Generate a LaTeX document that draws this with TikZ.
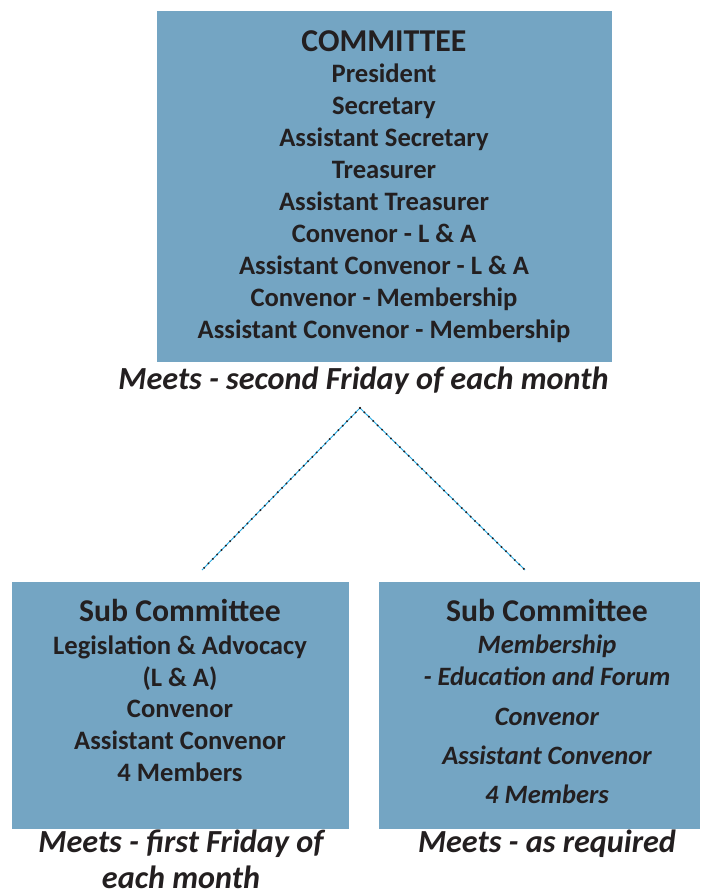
\documentclass[tikz,border=0pt]{standalone}
\usepackage{fontspec}
\setmainfont{Carlito}
\definecolor{boxblue}{RGB}{116,165,195}
\definecolor{ink}{RGB}{35,31,32}
\definecolor{linkblue}{RGB}{41,170,225}
\begin{document}
\begin{tikzpicture}[x=1pt,y=-1pt,
  panel/.style={draw=none,fill=boxblue,inner sep=0pt,anchor=north west},
  ln/.style={anchor=base,inner sep=0pt,text=ink,font=\fontsize{26.6}{30}\selectfont\bfseries},
  lni/.style={ln,font=\fontsize{26.5}{30}\selectfont\bfseries\itshape},
  head/.style={ln,font=\fontsize{31.8}{36}\selectfont\bfseries},
  subhead/.style={ln,font=\fontsize{31.7}{36}\selectfont\bfseries},
  meetcap/.style={ln,font=\fontsize{32.2}{36}\selectfont\bfseries\itshape}]
\useasboundingbox (0,0) rectangle (704,892);
% boxes
\node[panel,minimum width=455,minimum height=351] (top) at (157,11) {};
\node[panel,minimum width=337,minimum height=247] (left) at (12,582) {};
\node[panel,minimum width=321,minimum height=247] (right) at (379,582) {};
% top box text
\node[head] (t0) at (384,51) {COMMITTEE};
\node[ln] (t1) at (384,82) {President};
\node[ln] (t2) at (384,114) {Secretary};
\node[ln] (t3) at (384,146) {Assistant Secretary};
\node[ln] (t4) at (384,178) {Treasurer};
\node[ln] (t5) at (384,210) {Assistant Treasurer};
\node[ln] (t6) at (384,242) {Convenor - L \& A};
\node[ln] (t7) at (384,274) {Assistant Convenor - L \& A};
\node[ln] (t8) at (384,306) {Convenor - Membership};
\node[ln] (t9) at (384,338) {Assistant Convenor - Membership};
\node[meetcap] (tc) at (363.5,389) {Meets - second Friday of each month};
% left box text
\node[subhead] (l0) at (180,621) {Sub Committee};
\node[ln] (l1) at (180,654) {Legislation \& Advocacy};
\node[ln] (l2) at (180,686) {(L \& A)};
\node[ln] (l3) at (180,717) {Convenor};
\node[ln] (l4) at (180,749) {Assistant Convenor};
\node[ln] (l5) at (180,781) {4 Members};
\node[meetcap] (lc1) at (181,852) {Meets - first Friday of};
\node[meetcap,text depth=0pt] (lc2) at (181,888) {each month};
% right box text
\node[subhead] (r0) at (547,621) {Sub Committee};
\node[lni] (r1) at (547,653) {Membership};
\node[lni] (r2) at (547,685) {- Education and Forum};
\node[lni] (r3) at (547,725) {Convenor};
\node[lni] (r4) at (547,764) {Assistant Convenor};
\node[lni] (r5) at (547,803) {4 Members};
\node[meetcap] (rc) at (547,852) {Meets - as required};
% connectors
\coordinate (apex) at (360,408);
\coordinate (lend) at (202,570);
\coordinate (rend) at (525,570);
\draw[linkblue,line width=0.9pt] (lend) -- (apex) -- (rend);
\draw[ink,line width=2.2pt,line cap=round,dash pattern=on 0pt off 6.2pt] (apex) -- (lend);
\draw[ink,line width=2.2pt,line cap=round,dash pattern=on 0pt off 6.2pt] (apex) -- (rend);
\end{tikzpicture}
\end{document}
